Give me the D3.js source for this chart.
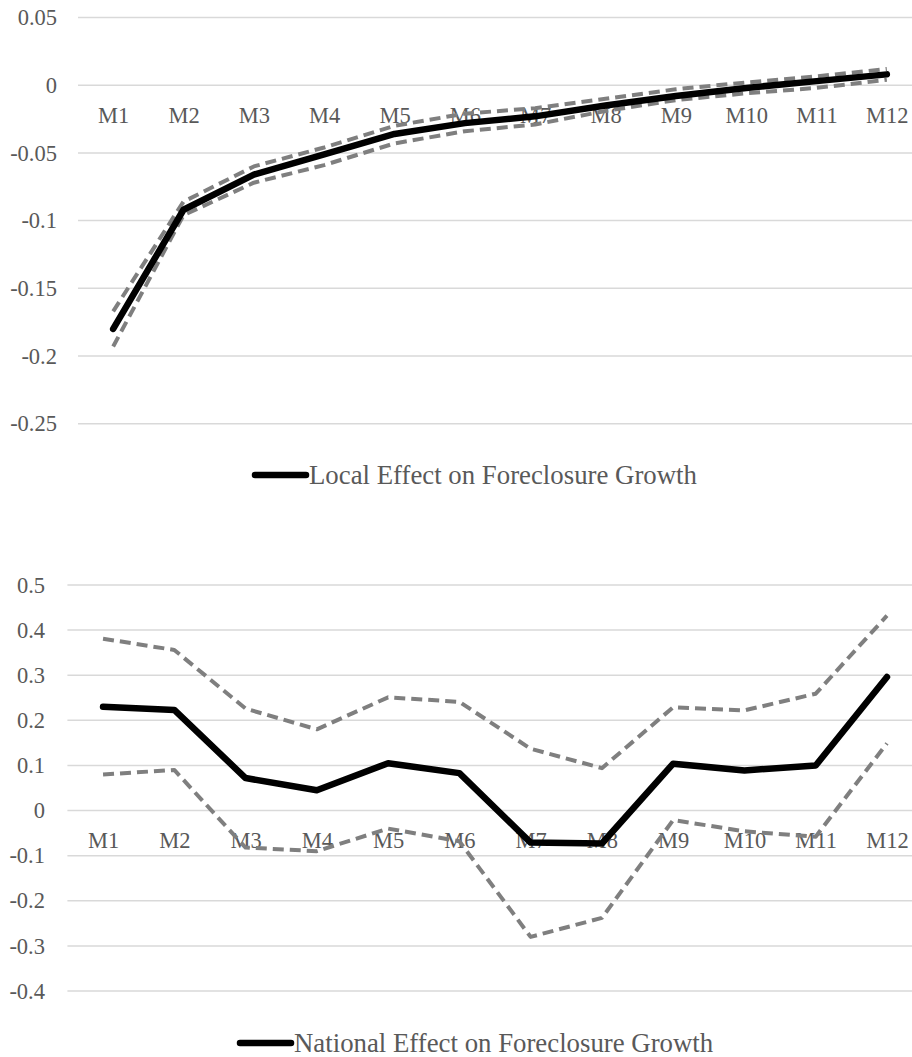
<!DOCTYPE html>
<html>
<head>
<meta charset="utf-8">
<script src="https://cdn.jsdelivr.net/npm/d3@7"></script>
<style>
  html, body { margin: 0; padding: 0; background: #fff; }
  svg { display: block; }
  svg text { font-family: "Liberation Serif", "Times New Roman", serif !important; fill: #595959; }
</style>
</head>
<body>
<svg id="chart" width="912" height="1057"></svg>
<script>
// Months after the shock
const months = ["M1","M2","M3","M4","M5","M6","M7","M8","M9","M10","M11","M12"];

// Local effect on foreclosure growth, with confidence bounds
const localEffect = [-0.180, -0.092, -0.066, -0.051, -0.036, -0.028, -0.023, -0.015, -0.008, -0.002, 0.003, 0.008];
const localUpper  = [-0.167, -0.086, -0.060, -0.046, -0.030, -0.021, -0.017, -0.010, -0.003, 0.002, 0.0065, 0.012];
const localLower  = [-0.193, -0.096, -0.072, -0.059, -0.043, -0.034, -0.029, -0.019, -0.011, -0.006, -0.002, 0.004];
const localTicks  = [0.05, 0, -0.05, -0.1, -0.15, -0.2, -0.25];
const localTickLabels = ["0.05", "0", "-0.05", "-0.1", "-0.15", "-0.2", "-0.25"];

// National effect on foreclosure growth, with confidence bounds
const nationalEffect = [0.230, 0.223, 0.072, 0.045, 0.105, 0.083, -0.071, -0.073, 0.104, 0.089, 0.100, 0.296];
const nationalUpper  = [0.381, 0.356, 0.226, 0.180, 0.251, 0.241, 0.137, 0.094, 0.229, 0.222, 0.259, 0.432];
const nationalLower  = [0.080, 0.090, -0.082, -0.090, -0.040, -0.068, -0.280, -0.238, -0.021, -0.046, -0.058, 0.149];
const nationalTicks  = [0.5, 0.4, 0.3, 0.2, 0.1, 0, -0.1, -0.2, -0.3, -0.4];
const nationalTickLabels = ["0.5", "0.4", "0.3", "0.2", "0.1", "0", "-0.1", "-0.2", "-0.3", "-0.4"];

const svg = d3.select("#chart");
const SERIF = "'Liberation Serif', 'Times New Roman', serif";

function drawPanel(opts) {
  const g = svg.append("g");
  const x = d3.scalePoint().domain(months).range(opts.xRange).padding(0.5);
  const y = d3.scaleLinear().domain(opts.yDomain).range(opts.yRange);

  // Horizontal gridlines
  g.append("g").selectAll("line").data(opts.ticks).join("line")
    .attr("x1", opts.xRange[0]).attr("x2", opts.xRange[1])
    .attr("y1", d => y(d)).attr("y2", d => y(d))
    .attr("stroke", "#d9d9d9").attr("stroke-width", 1.5);

  // Value axis labels
  const yAxis = d3.axisLeft(y).tickValues(opts.ticks)
    .tickFormat((d, i) => opts.tickLabels[i]).tickSize(0).tickPadding(0);
  g.append("g").attr("transform", `translate(${opts.labelRight},0)`).call(yAxis)
    .attr("font-family", null).attr("font-size", null)
    .call(a => a.select(".domain").remove())
    .selectAll("text")
    .style("font-family", SERIF).style("font-size", "22.5px").style("fill", "#595959");

  // Category labels sit just under the zero line
  const xAxis = d3.axisBottom(x).tickSize(0).tickPadding(0);
  g.append("g").attr("transform", `translate(0,${y(0) + 30})`).call(xAxis)
    .attr("font-family", null).attr("font-size", null)
    .call(a => a.select(".domain").remove())
    .selectAll("text")
    .attr("dy", "0.35em").attr("y", 0)
    .style("font-family", SERIF).style("font-size", "22.5px").style("fill", "#595959");

  const line = d3.line().x((d, i) => x(months[i])).y(d => y(d));

  // Confidence bounds (dashed)
  [opts.upper, opts.lower].forEach(series => {
    g.append("path").datum(series).attr("d", line)
      .attr("fill", "none").attr("stroke", "#7f7f7f")
      .attr("stroke-width", 4).attr("stroke-dasharray", "11,6")
      .attr("stroke-linejoin", "round");
  });

  // Point estimate
  g.append("path").datum(opts.main).attr("d", line)
    .attr("fill", "none").attr("stroke", "#000")
    .attr("stroke-width", 6.5).attr("stroke-linejoin", "round")
    .attr("stroke-linecap", "round");

  // Legend
  const lg = g.append("g");
  lg.append("line")
    .attr("x1", opts.legend.x1).attr("x2", opts.legend.x2)
    .attr("y1", opts.legend.y).attr("y2", opts.legend.y)
    .attr("stroke", "#000").attr("stroke-width", 6.5).attr("stroke-linecap", "round");
  lg.append("text")
    .attr("x", opts.legend.x2 + 3).attr("y", opts.legend.y)
    .attr("dy", "0.35em")
    .style("font-family", SERIF).style("font-size", "26.8px").style("fill", "#595959")
    .text(opts.legend.label);
}

drawPanel({
  xRange: [78, 922],
  yDomain: [-0.25, 0.05],
  yRange: [423.7, 17.5],
  ticks: localTicks,
  tickLabels: localTickLabels,
  labelRight: 57,
  main: localEffect,
  upper: localUpper,
  lower: localLower,
  legend: { x1: 255, x2: 306, y: 475, label: "Local Effect on Foreclosure Growth" }
});

drawPanel({
  xRange: [67.4, 922.6],
  yDomain: [-0.4, 0.5],
  yRange: [991, 585],
  ticks: nationalTicks,
  tickLabels: nationalTickLabels,
  labelRight: 45,
  main: nationalEffect,
  upper: nationalUpper,
  lower: nationalLower,
  legend: { x1: 240, x2: 291, y: 1043, label: "National Effect on Foreclosure Growth" }
});
</script>
</body>
</html>
